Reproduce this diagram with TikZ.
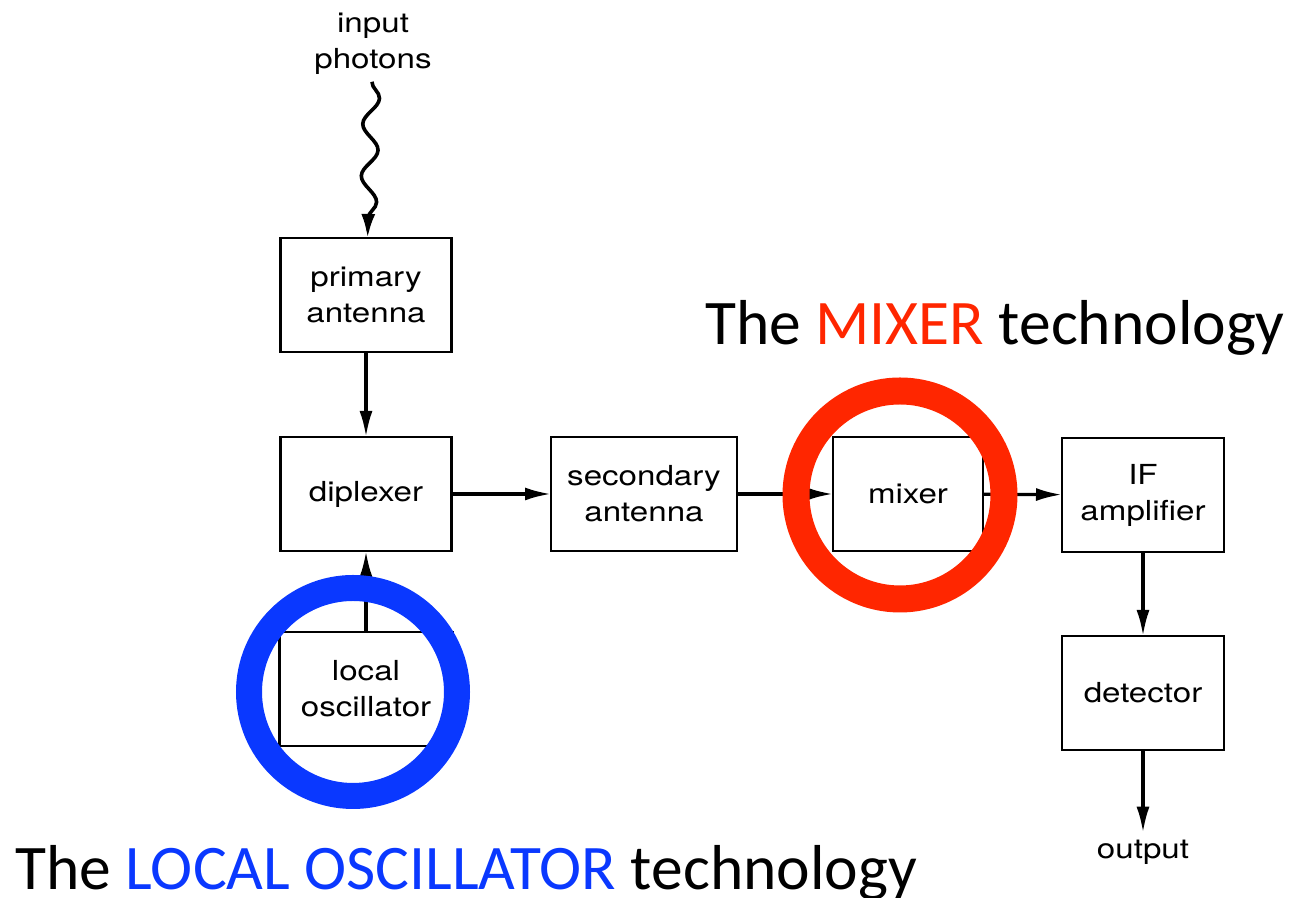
\documentclass[tikz,border=0pt]{standalone}
\usepackage{fontspec}
\setmainfont[FakeStretch=1.2]{TeX Gyre Heros}
\newfontfamily\calibri{Carlito}
\usepackage{tikz}
\usepackage{tkz-graph}
\usetikzlibrary{arrows.meta,decorations.pathmorphing}
\definecolor{ringred}{RGB}{255,38,0}
\definecolor{ringblue}{RGB}{10,56,255}

\begin{document}
\begin{tikzpicture}[x=0.5pt,y=0.5pt]
\useasboundingbox (0,0) rectangle (1292,898);
\GraphInit[vstyle=Normal]
\SetVertexNormal[Shape = rectangle, LineWidth = 1.3pt]
\tikzset{VertexStyle/.append style={align=center, inner sep=0pt,
  font=\fontsize{13.8}{18}\selectfont, minimum width=85.5pt, minimum height=57pt}}
\Vertex[x=366,y=603,L={primary\\antenna}]{prim}
\Vertex[x=366,y=404,L={diplexer}]{dipl}
\tikzset{VertexStyle/.append style={minimum width=86.5pt}}
\Vertex[x=366,y=209,L={local\\oscillator}]{lo}
\tikzset{VertexStyle/.append style={minimum width=93pt}}
\Vertex[x=644,y=404,L={secondary\\antenna}]{sec}
\tikzset{VertexStyle/.append style={minimum width=75pt}}
\Vertex[x=908,y=404,L={mixer}]{mix}
\tikzset{VertexStyle/.append style={minimum width=81pt}}
\Vertex[x=1143,y=403,L={IF\\amplifier}]{ifa}
\Vertex[x=1143,y=205,L={detector}]{det}
\node[font=\fontsize{13.8}{18}\selectfont, align=center] (phot) at (373,854) {input\\photons};
\node[font=\fontsize{13.8}{18}\selectfont] (out) at (1143,46) {output};
\SetUpEdge[lw=1.6pt, color=black]
\tikzset{EdgeStyle/.style={-{Latex[length=13pt,width=6.5pt]}}}
\draw[line width=1.8pt, -{Latex[length=12pt,width=7pt]}, decorate,
  decoration={snake, amplitude=4pt, segment length=26pt, post length=8pt}] (phot) -- (prim);
\Edge(prim)(dipl)
\Edge(lo)(dipl)
\Edge(dipl)(sec)
\Edge(sec)(mix)
\Edge(mix)(ifa)
\Edge(ifa)(det)
\Edge(det)(out)
% rings
\draw[ringblue, line width=13pt] (353,206) circle[radius=52pt];
\draw[ringred, line width=13.5pt] (900,403) circle[radius=52pt];
\node[anchor=base west, inner sep=0pt, font=\calibri\fontsize{31.75}{36}\selectfont] (mixtxt) at (705,553) {The \textcolor{ringred}{MIXER} technology};
\node[anchor=base west, inner sep=0pt, font=\calibri\fontsize{31.75}{36}\selectfont] (lotxt) at (15,8) {The \textcolor{ringblue}{LOCAL OSCILLATOR} technology};
\end{tikzpicture}
\end{document}
